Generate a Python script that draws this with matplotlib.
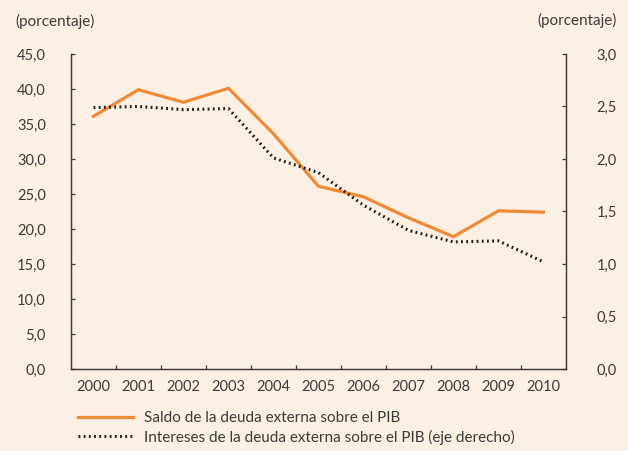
import matplotlib.pyplot as plt
from matplotlib.ticker import FixedLocator, FuncFormatter

years = ['2000', '2001', '2002', '2003', '2004', '2005',
         '2006', '2007', '2008', '2009', '2010']
saldo = [36.1, 39.9, 38.1, 40.1, 33.6, 26.1, 24.6, 21.6, 18.9, 22.6, 22.4]
intereses = [2.49, 2.50, 2.47, 2.48, 2.01, 1.87, 1.56, 1.32, 1.21, 1.22, 1.02]

bg = '#fcefe4'
naranja = '#ef8a37'
txt = '#3b3b3b'

plt.rcParams['font.family'] = ['Lato', 'DejaVu Sans']
plt.rcParams['font.size'] = 10.5

fig = plt.figure(figsize=(6.28, 4.51), dpi=100, facecolor=bg)
ax = fig.add_axes([71/628, 82/451, 495/628, 315/451], facecolor=bg)
ax2 = ax.twinx()

x = list(range(len(years)))
l1, = ax.plot(x, saldo, color=naranja, lw=2.3, solid_joinstyle='miter',
              label='Saldo de la deuda externa sobre el PIB')
l2, = ax2.plot(x, intereses, color='#1e1e1e', lw=2.2, linestyle=(0, (0.6, 1.1)),
               label='Intereses de la deuda externa sobre el PIB (eje derecho)')

ax.set_xlim(-0.5, len(years) - 0.5)
ax.set_ylim(0, 45)
ax2.set_ylim(0, 3)

ax.set_yticks([0, 5, 10, 15, 20, 25, 30, 35, 40, 45])
ax2.set_yticks([0, 0.5, 1.0, 1.5, 2.0, 2.5, 3.0])
ax.yaxis.set_major_formatter(FuncFormatter(lambda v, p: f'{v:.1f}'.replace('.', ',')))
ax2.yaxis.set_major_formatter(FuncFormatter(lambda v, p: f'{v:.1f}'.replace('.', ',')))

# tick marks between years, labels centred on each year
ax.xaxis.set_major_locator(FixedLocator([i + 0.5 for i in x[:-1]]))
ax.xaxis.set_major_formatter(FuncFormatter(lambda v, p: ''))
ax.xaxis.set_minor_locator(FixedLocator(x))
ax.set_xticklabels(years, minor=True)

ax.tick_params(axis='x', which='major', direction='in', length=3, width=0.9, color=txt)
ax.tick_params(axis='x', which='minor', length=0, pad=8, labelcolor=txt)
ax.tick_params(axis='y', direction='in', length=3, width=0.9, color=txt,
               pad=18, labelcolor=txt)
ax2.tick_params(axis='y', direction='in', length=3, width=0.9, color=txt,
                pad=22, labelcolor=txt)

for a in (ax, ax2):
    a.spines['top'].set_visible(False)
    for s in ('left', 'right', 'bottom'):
        a.spines[s].set_color(txt)
        a.spines[s].set_linewidth(0.9)

fig.text(15/628, 1 - 21/451, '(porcentaje)', ha='left', va='center', color=txt, fontsize=11)
fig.text(617/628, 1 - 20/451, '(porcentaje)', ha='right', va='center', color=txt, fontsize=11)

fig.legend(handles=[l1, l2], loc='upper left', bbox_to_anchor=(72/628, 1 - 405/451),
           frameon=False, handlelength=3.6, handletextpad=0.7, labelspacing=0.3,
           borderaxespad=0, labelcolor=txt, fontsize=11)

fig.savefig('out.png', dpi=100, facecolor=bg)
